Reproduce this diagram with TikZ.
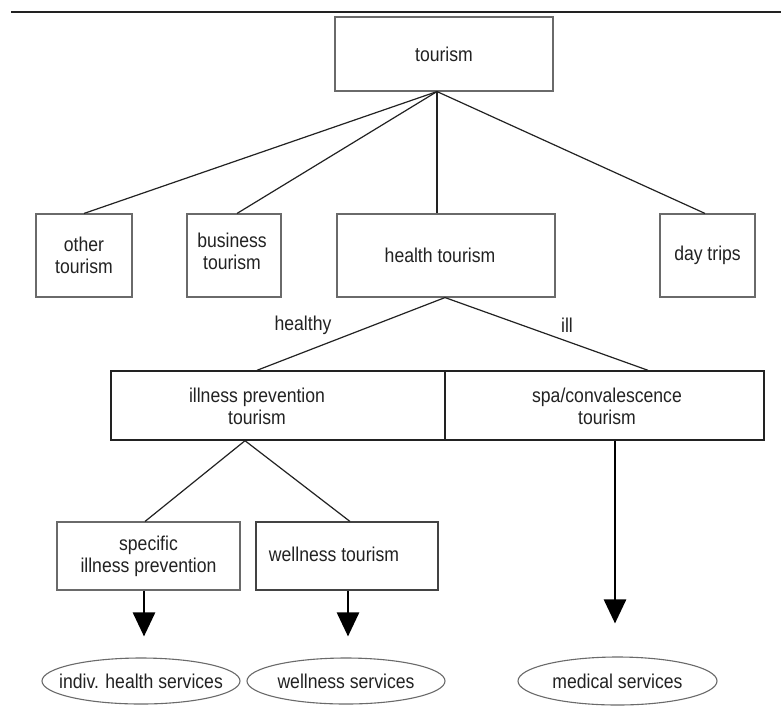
\documentclass[tikz,border=0pt]{standalone}
\usepackage{fontspec}
\setmainfont{Liberation Sans}[FakeStretch=0.88]
\usetikzlibrary{arrows.meta,shapes.geometric}
\definecolor{ink}{HTML}{222222}
\definecolor{frame}{HTML}{6A6A6A}
\begin{document}
\begin{tikzpicture}[x=1pt,y=-1pt,
  txt/.style={font=\fontsize{20}{22}\selectfont, text=ink, align=center, inner sep=0pt},
  box/.style={txt, draw=frame, line width=1.1pt, inner sep=0pt},
  darkbox/.style={box, draw=ink, line width=1.4pt},
  oval/.style={txt, ellipse, draw=frame, line width=1.1pt, inner sep=0pt},
  conn/.style={draw=ink, line width=1.2pt},
  arr/.style={draw=black, line width=2.6pt, -{Triangle[width=22pt,length=24pt]}}]
\useasboundingbox (0,0) rectangle (781,705);
\fill[white] (0,0) rectangle (781,705);
\draw[line width=2pt, ink] (11,12) -- (781,12);

% boxes
\node[box, minimum width=218pt, minimum height=74pt] (tour) at (444,54) {tourism};
\node[box, minimum width=96pt, minimum height=83pt] (other) at (84,255.5) {other\\tourism};
\node[box, minimum width=94pt, minimum height=83pt] (bus) at (234,255.5) {};
\node[txt] (bustext) at (232,251) {business\\tourism};
\node[box, minimum width=218pt, minimum height=83pt] (health) at (446,255.5) {};
\node[txt] (healthtext) at (440,255) {health tourism};
\node[box, minimum width=95pt, minimum height=83pt] (day) at (707.5,255.5) {day trips};

\node[darkbox, minimum width=334pt, minimum height=69pt] (ip) at (278,405.5) {};
\node[txt] (iptext) at (257,406) {illness prevention\\tourism};
\node[darkbox, minimum width=319pt, minimum height=69pt] (spa) at (604.5,405.5) {};
\node[txt] (spatext) at (607,406) {spa/convalescence\\tourism};

\node[box, minimum width=183pt, minimum height=68pt] (spec) at (148.5,556) {specific\\illness prevention};
\node[box, draw=ink!85, minimum width=182pt, minimum height=68pt] (well) at (347,556) {};
\node[txt] (welltext) at (334,554) {wellness tourism};

% ellipses
\node[oval, minimum width=198pt, minimum height=46pt] (indiv) at (141,681) {\makebox[0pt]{indiv. health services}};
\node[oval, minimum width=198pt, minimum height=46pt] (wserv) at (346,681) {\makebox[0pt]{wellness services}};
\node[oval, minimum width=199pt, minimum height=48pt] (med) at (617.5,681) {\makebox[0pt]{medical services}};

% labels
\node[txt] (lhealthy) at (303,325) {healthy};
\node[txt] (lill) at (567,325) {ill};

% connectors
\draw[conn] ([xshift=-7pt]tour.south) -- (other.north);
\draw[conn] ([xshift=-7pt]tour.south) -- ([xshift=3pt]bus.north);
\draw[conn] ([xshift=-7pt]tour.south) -- ([xshift=-9pt]health.north);
\draw[conn] ([xshift=-7pt]tour.south) -- ([xshift=-2.5pt]day.north);

\draw[conn] ([xshift=-1pt]health.south) -- ([xshift=-21pt]ip.north);
\draw[conn] ([xshift=-1pt]health.south) -- ([xshift=43.5pt]spa.north);

\draw[conn] ([xshift=-33pt]ip.south) -- ([xshift=-3.5pt]spec.north);
\draw[conn] ([xshift=-33pt]ip.south) -- ([xshift=3pt]well.north);

% arrows
\draw[arr, shorten >=21pt] ([xshift=-4.5pt]spec.south) -- ([xshift=-4.5pt]spec.south |- indiv.north);
\draw[arr, shorten >=21pt] ([xshift=1pt]well.south) -- ([xshift=1pt]well.south |- wserv.north);
\draw[arr, shorten >=33pt] ([xshift=10.5pt]spa.south) -- ([xshift=10.5pt]spa.south |- med.north);
\end{tikzpicture}
\end{document}
